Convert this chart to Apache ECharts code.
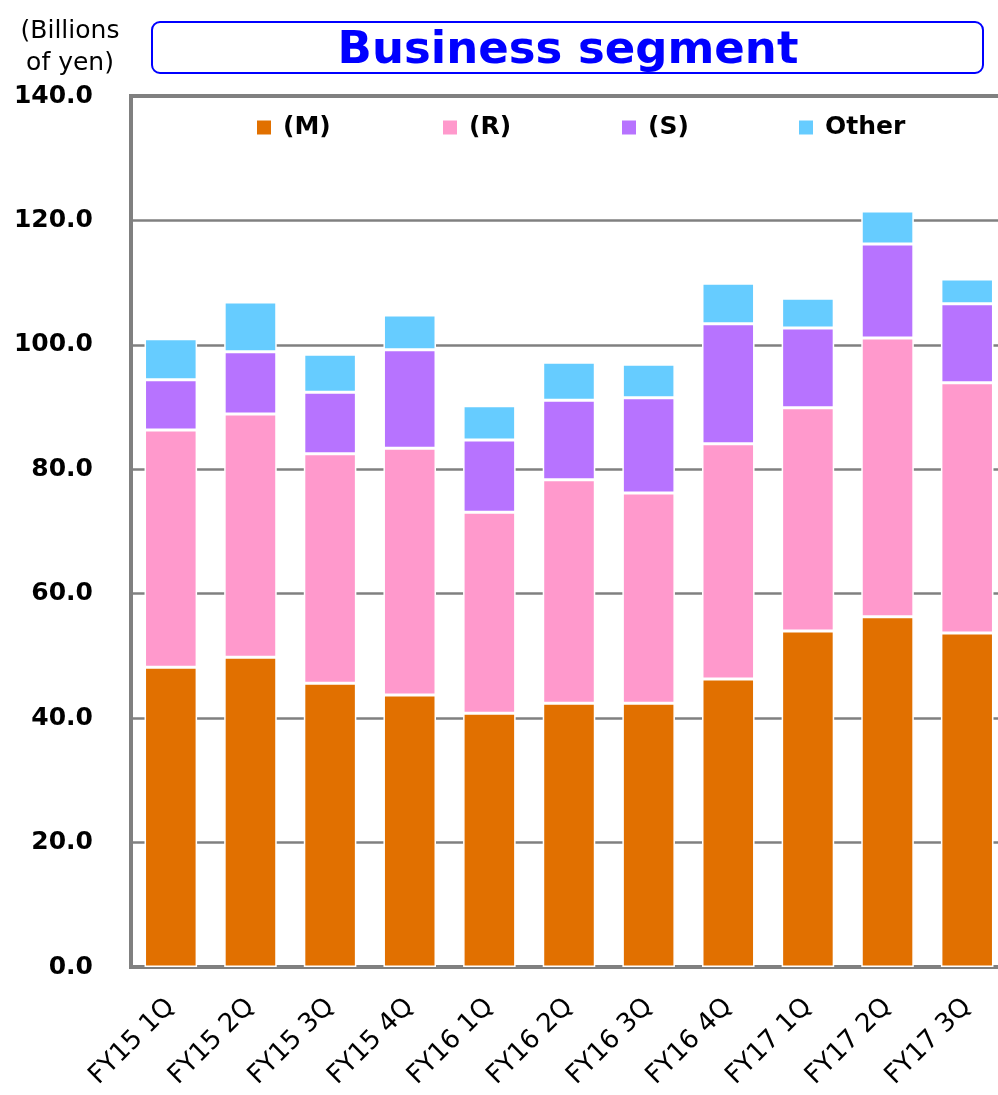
<!DOCTYPE html>
<html>
<head>
<meta charset="utf-8">
<script src="https://cdn.jsdelivr.net/npm/echarts@6/dist/echarts.min.js"></script>
<style>
html,body{margin:0;padding:0;background:#fff;}
#chart{width:998px;height:1095px;}
</style>
</head>
<body>
<div id="chart"></div>
<script>
const categories = ['FY15 1Q','FY15 2Q','FY15 3Q','FY15 4Q','FY16 1Q','FY16 2Q','FY16 3Q','FY16 4Q','FY17 1Q','FY17 2Q','FY17 3Q'];
const seriesNames = ['(M)','(R)','(S)','Other'];
const valuesM = [48.2, 49.8, 45.6, 43.7, 40.8, 42.4, 42.4, 46.3, 54.0, 56.3, 53.7];
const valuesR = [38.1, 39.1, 36.9, 39.7, 32.3, 35.9, 33.8, 37.8, 35.9, 44.8, 40.2];
const valuesS = [8.1, 10.0, 9.9, 15.8, 11.6, 12.8, 15.3, 19.3, 12.8, 15.1, 12.7];
const valuesOther = [6.6, 8.0, 6.1, 5.6, 5.5, 6.1, 5.4, 6.5, 4.8, 5.3, 4.0];
const colors = ['#E17000', '#FF99CC', '#B773FF', '#66CCFF'];
const seriesValues = [valuesM, valuesR, valuesS, valuesOther];
const legendLefts = [255, 441, 620, 797];

const FONT = '"DejaVu Sans", Verdana, sans-serif';

const chart = echarts.init(document.getElementById('chart'));

const legends = seriesNames.map((n, i) => ({
  show: true,
  data: [{name: n, icon: 'rect'}],
  left: legendLefts[i],
  top: 115,
  padding: 0,
  itemWidth: 16,
  itemHeight: 16,
  selectedMode: false,
  textStyle: {fontFamily: FONT, fontSize: 25, fontWeight: 'bold', color: '#000', padding: [0,0,4,6]}
}));

const option = {
  animation: false,
  backgroundColor: '#fff',
  legend: legends,
  graphic: [
    {type: 'rect', shape: {x: 152, y: 22, width: 831, height: 51, r: 8},
     style: {fill: 'none', stroke: '#0000FF', lineWidth: 2}},
    {type: 'text', x: 568, y: 51,
     style: {text: 'Business segment', fill: '#0000FF', font: 'bold 45px ' + FONT, textAlign: 'center', textVerticalAlign: 'middle'}},
    {type: 'text', x: 70, y: 47,
     style: {text: '(Billions\nof yen)', fill: '#000', font: '25px ' + FONT, textAlign: 'center', textVerticalAlign: 'middle', lineHeight: 32}}
  ],
  grid: {
    left: 131, right: -9, top: 96, bottom: 128,
    containLabel: false,
    outerBoundsMode: 'none',
    show: true, borderColor: '#808080', borderWidth: 4, backgroundColor: 'transparent'
  },
  xAxis: {
    type: 'category',
    data: categories,
    axisLine: {show: true, lineStyle: {color: '#808080', width: 3}},
    axisTick: {show: false},
    axisLabel: {rotate: 45, margin: 36, fontFamily: FONT, fontSize: 26, color: '#000'}
  },
  yAxis: {
    type: 'value',
    min: 0, max: 140, interval: 20,
    axisLine: {show: true, lineStyle: {color: '#808080', width: 4}},
    axisTick: {show: false},
    axisLabel: {margin: 38, fontFamily: FONT, fontSize: 25, fontWeight: 'bold', color: '#000',
      formatter: v => v.toFixed(1)},
    splitLine: {show: true, lineStyle: {color: '#808080', width: 2.5}}
  },
  series: seriesNames.map((n, i) => ({
    name: n,
    type: 'bar',
    stack: 'total',
    barWidth: '66%',
    data: seriesValues[i],
    itemStyle: {color: colors[i], borderColor: '#fff', borderWidth: 1.5}
  }))
};
chart.setOption(option);
</script>
</body>
</html>
